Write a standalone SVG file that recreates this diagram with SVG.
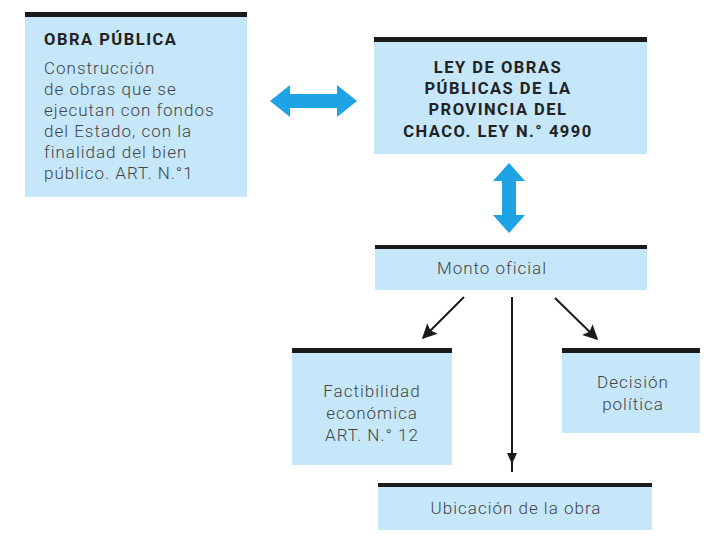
<svg xmlns="http://www.w3.org/2000/svg" width="708" height="546" viewBox="0 0 708 546">
<style>
.box{fill:#c6e7fa}
.bar{fill:#1b1b1b}
.t{font-family:Roboto,"Liberation Sans",sans-serif;font-size:17px;font-weight:300;fill:#444;letter-spacing:1px}
.b{font-family:Roboto,"Liberation Sans",sans-serif;font-size:16.5px;font-weight:bold;fill:#222;letter-spacing:1.5px}
.c{text-anchor:middle}
.ln{stroke:#1b1b1b;stroke-width:2;fill:none}
.big{fill:#1ea3e4}
</style>
<defs>
<marker id="ah2" viewBox="0 0 10 10" refX="9" refY="5" markerWidth="15" markerHeight="15" markerUnits="userSpaceOnUse" orient="auto">
<path d="M0,0 L10,5 L0,10 L2,5 z" fill="#1b1b1b"/>
</marker>
</defs>
<rect width="708" height="546" fill="#ffffff"/>
<g id="connectors">
<path class="big" d="M270,101 L290,85 L290,94 L337,94 L337,85 L357,101 L337,117 L337,108 L290,108 L290,117 Z"/>
<path class="big" d="M509,163 L525,181 L516,181 L516,215 L525,215 L509,233 L493,215 L502,215 L502,181 L493,181 Z"/>
<line class="ln" x1="464" y1="297" x2="423" y2="338" marker-end="url(#ah2)"/>
<line class="ln" x1="555" y1="298" x2="597" y2="339" marker-end="url(#ah2)"/>
<line class="ln" x1="512" y1="297" x2="512" y2="472"/>
<path d="M507,453 L517,453 L512,464 Z" fill="#1b1b1b"/>
</g>
<g id="obra-publica">
<rect class="box" x="25" y="15" width="222" height="182"/>
<rect class="bar" x="25" y="12" width="222" height="5"/>
<text class="b" x="44" y="45">OBRA PÚBLICA</text>
<text class="t" x="44" y="74">Construcción</text>
<text class="t" x="44" y="95">de obras que se</text>
<text class="t" x="44" y="116">ejecutan con fondos</text>
<text class="t" x="44" y="137">del Estado, con la</text>
<text class="t" x="44" y="158">finalidad del bien</text>
<text class="t" x="44" y="179">público. ART. N.°1</text>
</g>
<g id="ley">
<rect class="box" x="374" y="41" width="273" height="113"/>
<rect class="bar" x="374" y="37" width="273" height="5"/>
<text class="b c" x="498" y="73">LEY DE OBRAS</text>
<text class="b c" x="498" y="94">PÚBLICAS DE LA</text>
<text class="b c" x="498" y="115">PROVINCIA DEL</text>
<text class="b c" x="498" y="137">CHACO. LEY N.° 4990</text>
</g>
<g id="monto">
<rect class="box" x="375" y="248" width="272" height="42"/>
<rect class="bar" x="375" y="245" width="272" height="4"/>
<text class="t c" x="492" y="274">Monto oficial</text>
</g>
<g id="factibilidad">
<rect class="box" x="292" y="352" width="160" height="113"/>
<rect class="bar" x="292" y="348" width="160" height="5"/>
<text class="t c" x="372" y="397">Factibilidad</text>
<text class="t c" x="372" y="419">económica</text>
<text class="t c" x="372" y="441">ART. N.° 12</text>
</g>
<g id="decision">
<rect class="box" x="562" y="352" width="138" height="81"/>
<rect class="bar" x="562" y="348" width="138" height="5"/>
<text class="t c" x="633" y="388">Decisión</text>
<text class="t c" x="633" y="410">política</text>
</g>
<g id="ubicacion">
<rect class="box" x="378" y="486" width="274" height="44"/>
<rect class="bar" x="378" y="483" width="274" height="4"/>
<text class="t c" x="516" y="514">Ubicación de la obra</text>
</g>
</svg>
